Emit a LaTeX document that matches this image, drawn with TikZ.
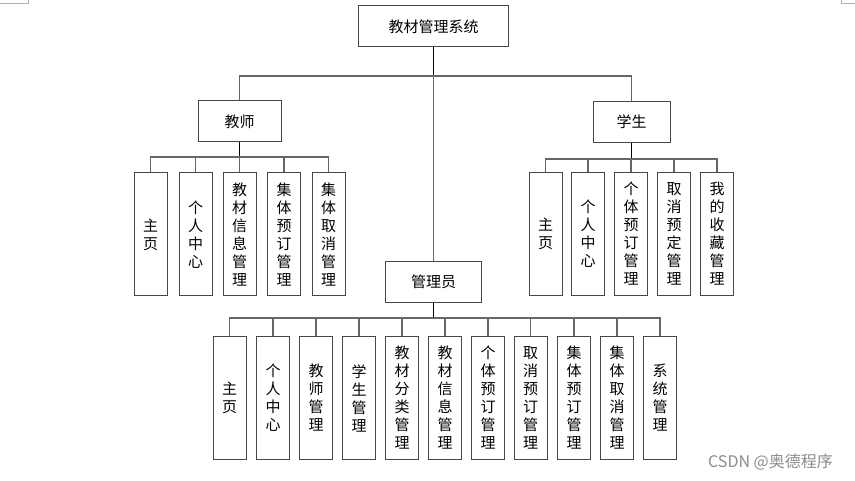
\documentclass[tikz,border=0pt]{standalone}
\usepackage{fontspec}
\setmainfont{Noto Sans CJK SC}
\usetikzlibrary{positioning}
\begin{document}
\begin{tikzpicture}[x=1pt,y=-1pt,
  box/.style={draw=black!72,line width=1pt,fill=white,inner sep=0pt,
    font=\fontsize{15}{18}\selectfont,align=center},
  hbox/.style={box,minimum width=#1,minimum height=41},
  vbox/.style={box,minimum width=33,minimum height=123},
  conn/.style={draw=black!60,line width=1.1pt},
  stem/.style={draw=black,line width=1.8pt},
  cornermark/.style={draw=black!30,line width=0.8pt}
]
\useasboundingbox[fill=white] (0,0) rectangle (855,481);
% corner marks
\coordinate (ml1) at (0,3); \coordinate (ml2) at (28,3); \coordinate (ml3) at (28,0);
\coordinate (mr1) at (855,3); \coordinate (mr2) at (841,3); \coordinate (mr3) at (841,0);
\draw[cornermark] (ml1) -- (ml2) -- (ml3);
\draw[cornermark] (mr1) -- (mr2) -- (mr3);

% top levels
\node[hbox=150] (root) at (433.5,26.5) {教材管理系统};
\node[hbox=83] (tea) at (239.5,121.5) {教师};
\node[hbox=77] (stu) at (631.5,122) {学生};
\node[hbox=96] (adm) at (433.5,282) {管理员};

\coordinate (rbus) at (433.5,76);
\draw[stem] (root.south) -- (rbus);
\draw[conn] (rbus) -| (tea.north);
\draw[conn] (rbus) -| (stu.north);
\draw[conn] (rbus) -- (adm.north);

% teacher children
\foreach \n/\x/\t in {t1/150.5/{主\\页},t2/195.5/{个\\人\\中\\心},t3/239.5/{教\\材\\信\\息\\管\\理},
  t4/284/{集\\体\\预\\订\\管\\理},t5/328.5/{集\\体\\取\\消\\管\\理}}
  \node[vbox] (\n) at (\x,234.5) {\t};
\coordinate (tbus) at (239.5,157);
\draw[stem] (tea.south) -- (tbus);
\foreach \n in {t1,t2,t3,t4,t5} \draw[conn] (tbus) -| (\n.north);

% student children
\foreach \n/\x/\t in {s1/545.5/{主\\页},s2/588/{个\\人\\中\\心},s3/631/{个\\体\\预\\订\\管\\理},
  s4/674/{取\\消\\预\\定\\管\\理},s5/717/{我\\的\\收\\藏\\管\\理}}
  \node[vbox] (\n) at (\x,234) {\t};
\coordinate (sbus) at (631.5,159);
\draw[stem] (stu.south) -- (sbus);
\foreach \n in {s1,s2,s3,s4,s5} \draw[conn] (sbus) -| (\n.north);

% admin children
\foreach \n/\x/\t in {a1/229.5/{主\\页},a2/273/{个\\人\\中\\心},a3/316/{教\\师\\管\\理},
  a4/359/{学\\生\\管\\理},a5/402/{教\\材\\分\\类\\管\\理},a6/445/{教\\材\\信\\息\\管\\理},
  a7/488/{个\\体\\预\\订\\管\\理},a8/530.5/{取\\消\\预\\订\\管\\理},a9/574/{集\\体\\预\\订\\管\\理},
  a10/617/{集\\体\\取\\消\\管\\理},a11/660/{系\\统\\管\\理}}
  \node[vbox] (\n) at (\x,398) {\t};
\coordinate (abus) at (433.5,318);
\draw[stem] (adm.south) -- (abus);
\foreach \n in {a1,a2,a3,a4,a5,a6,a7,a8,a9,a10,a11} \draw[conn] (abus) -| (\n.north);

% watermark
\node[font=\fontsize{16}{18}\selectfont,text=black!45,inner sep=0pt] (wm) at (770.5,462) {CSDN @奥德程序};
\end{tikzpicture}
\end{document}
